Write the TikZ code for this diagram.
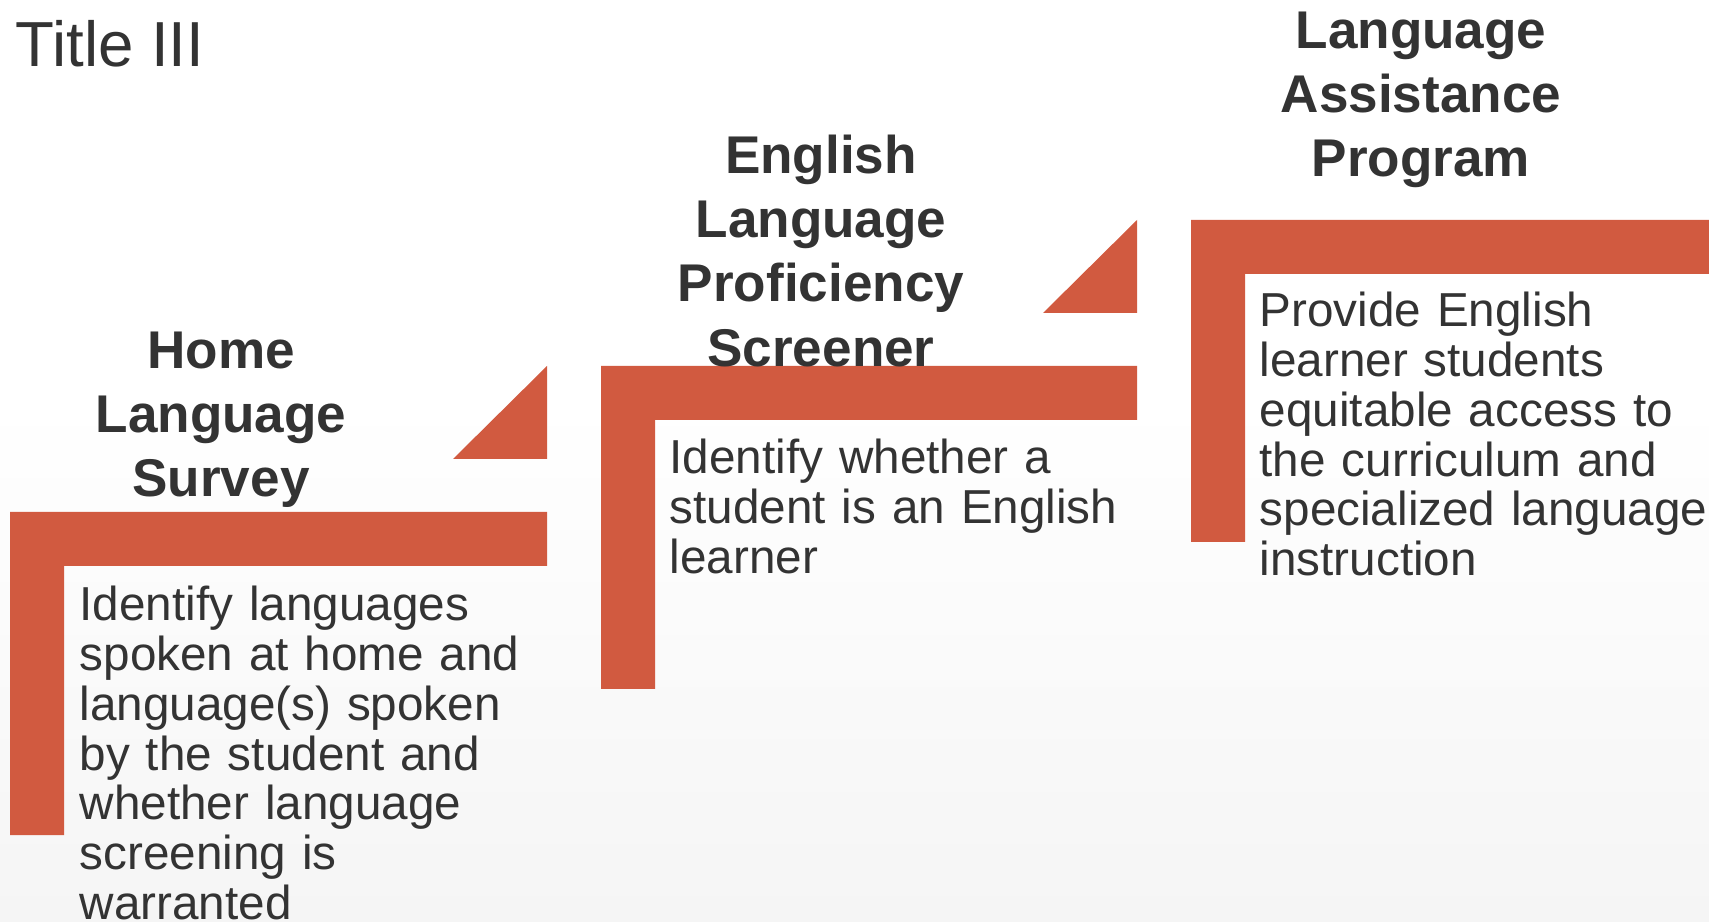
\documentclass[tikz,border=0pt]{standalone}
\usepackage{fontspec}
\setmainfont{Liberation Sans}
\usepackage{xcolor}
\usepackage{tikz}
\usetikzlibrary{positioning}
\definecolor{ink}{HTML}{333333}
\definecolor{stair}{HTML}{D15A40}
\definecolor{bgfade}{HTML}{F5F5F5}
\tikzset{
  stairbar/.style={fill=stair,draw=none},
  titletext/.style={anchor=base west,inner sep=0pt,text=ink,
    font=\fontsize{18.1}{21}\selectfont},
  headtext/.style={anchor=base,inner sep=0pt,text=ink,align=center,
    text width=3.4cm,font=\fontsize{15.1}{18.2}\selectfont\bfseries},
  bodytext/.style={anchor=base west,inner sep=0pt,text=ink,align=left,
    text width=4.8cm,font=\fontsize{13.55}{14.14}\selectfont},
}

\begin{document}
\begin{tikzpicture}[x=0.01cm,y=-0.01cm]
  \useasboundingbox (0,0) rectangle (1709,922);
  \fill[white] (0,0) rectangle (1709,400);
  \shade[top color=white,bottom color=bgfade] (0,399) rectangle (1709,922);

  % the three steps, each an L with a small wedge above its right end
  \fill[stairbar] (10,512) -- (547,512) -- (547,566) -- (64,566) -- (64,835) -- (10,835) -- cycle;
  \fill[stairbar] (601,366) -- (1137,366) -- (1137,420) -- (655,420) -- (655,689) -- (601,689) -- cycle;
  \fill[stairbar] (1191,220) -- (1709,220) -- (1709,274) -- (1245,274) -- (1245,542) -- (1191,542) -- cycle;
  \fill[stairbar] (453,459) -- (547,366) -- (547,459) -- cycle;
  \fill[stairbar] (1043,313) -- (1137,220) -- (1137,313) -- cycle;

  \node[titletext] (title) at (15,67) {Title III};

  \node[headtext] (hls) at (221,369) {Home\\Language\\Survey};
  \node[headtext] (elps) at (821,174) {English\\Language\\Proficiency\\Screener};
  \node[headtext] (lap) at (1421,49) {Language\\Assistance\\Program};

  \node[bodytext] (hlsbody) at (79,621) {Identify languages\\spoken at home and\\language(s) spoken\\by the student and\\whether language\\screening is\\warranted};
  \node[bodytext] (elpsbody) at (669,474) {Identify whether a\\student is an English\\learner};
  \node[bodytext] (lapbody) at (1259,327) {Provide English\\learner students\\equitable access to\\the curriculum and\\specialized language\\instruction};
\end{tikzpicture}
\end{document}
